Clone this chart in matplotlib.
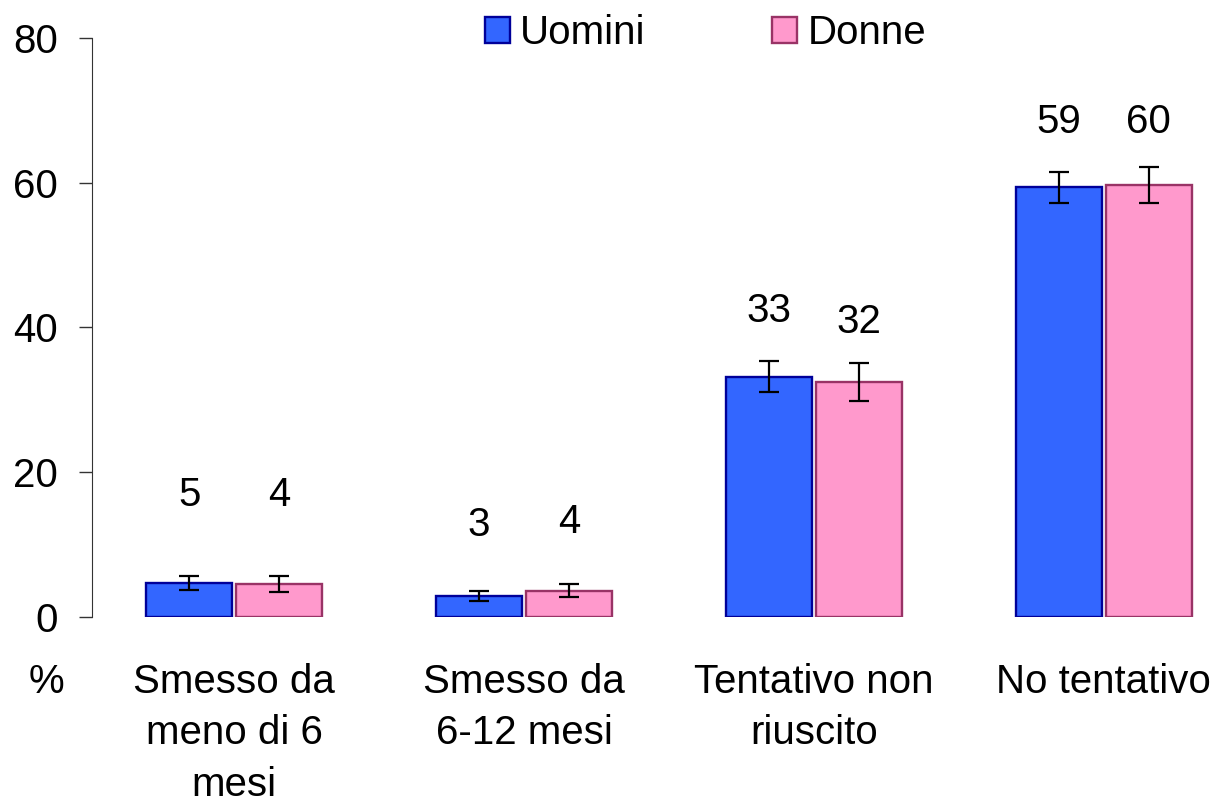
import matplotlib.pyplot as plt
import numpy as np

plt.rcParams['font.family'] = ['Liberation Sans', 'DejaVu Sans']

# data
categories = ['Smesso da\nmeno di 6\nmesi', 'Smesso da\n6-12 mesi', 'Tentativo non\nriuscito', 'No tentativo']
uomini = [4.7, 2.9, 33.2, 59.4]
donne = [4.6, 3.6, 32.5, 59.7]
uomini_err = [0.95, 0.75, 2.15, 2.15]
donne_err = [1.1, 0.9, 2.6, 2.5]
uomini_lab = ['5', '3', '33', '59']
donne_lab = ['4', '4', '32', '60']
uomini_lab_y = [16.9, 12.7, 42.3, 68.4]
donne_lab_y = [16.9, 13.1, 40.8, 68.4]

FS = 29

fig = plt.figure(figsize=(12.14, 7.98), dpi=100)
ax = fig.add_axes([0.0758, 0.2268, 0.9242, 0.7256])

x = np.arange(len(categories))
w = 0.296
off = 0.155

ax.bar(x - off, uomini, w, color='#3366FF', edgecolor='#000099', linewidth=1.7, label='Uomini')
ax.bar(x + off, donne, w, color='#FF99CC', edgecolor='#993366', linewidth=1.7, label='Donne')
ax.errorbar(x - off, uomini, yerr=uomini_err, fmt='none', ecolor='black', elinewidth=1.6, capsize=7.2, capthick=1.6)
ax.errorbar(x + off, donne, yerr=donne_err, fmt='none', ecolor='black', elinewidth=1.6, capsize=7.2, capthick=1.6)

for i in range(len(categories)):
    ax.text(x[i] - off, uomini_lab_y[i], uomini_lab[i], ha='center', va='center', fontsize=FS)
    ax.text(x[i] + off, donne_lab_y[i], donne_lab[i], ha='center', va='center', fontsize=FS)

ax.set_ylim(0, 80)
ax.set_xlim(-0.49, 3.38)
ax.set_yticks([0, 20, 40, 60, 80])
ax.tick_params(axis='y', labelsize=FS, length=9.4, width=1, direction='out', pad=15, color='#333333')
ax.set_xticks(x)
ax.set_xticklabels(categories, fontsize=FS, linespacing=1.45)
ax.tick_params(axis='x', length=0, pad=33)

for s in ['top', 'right', 'bottom']:
    ax.spines[s].set_visible(False)
ax.spines['left'].set_color('#333333')

fig.text(46.5 / 1214, 1 - 682 / 798, '%', fontsize=FS, ha='center', va='center')

fig.legend(loc='upper left', bbox_to_anchor=(485 / 1214, 1 - 14 / 798), ncol=2, frameon=False, fontsize=FS,
           borderpad=0, borderaxespad=0, handlelength=0.62, handleheight=0.62, handletextpad=0.25,
           columnspacing=3.15)

fig.savefig('out.png', dpi=100)
